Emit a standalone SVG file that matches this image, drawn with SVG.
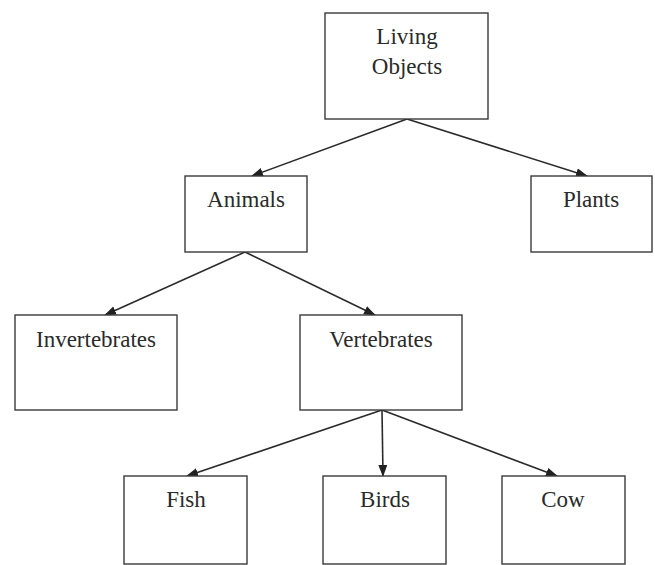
<svg xmlns="http://www.w3.org/2000/svg" width="655" height="565" viewBox="0 0 655 565">
<defs>
<marker id="arr" markerWidth="12" markerHeight="10" refX="11" refY="4.5" orient="auto" markerUnits="userSpaceOnUse">
<path d="M0,0 L12,4.5 L0,9 Z" fill="#222"/>
</marker>
<style>
.box{fill:#fff;stroke:#3a3a3a;stroke-width:1.4}
.lbl{font-family:"Liberation Serif","Times New Roman",serif;font-size:23px;fill:#2a2a2a;text-anchor:middle}
.con{stroke:#2a2a2a;stroke-width:1.6;fill:none;marker-end:url(#arr)}
</style>
</defs>
<rect width="655" height="565" fill="#fff"/>
<g id="connectors">
<line class="con" x1="407" y1="119" x2="252" y2="176"/>
<line class="con" x1="407" y1="119" x2="587" y2="176"/>
<line class="con" x1="245" y1="252" x2="105" y2="315"/>
<line class="con" x1="245" y1="252" x2="375" y2="315"/>
<line class="con" x1="382" y1="410" x2="187" y2="476"/>
<line class="con" x1="382" y1="410" x2="383" y2="476"/>
<line class="con" x1="382" y1="410" x2="557" y2="476"/>
</g>
<g id="living">
<rect class="box" x="325" y="13" width="163" height="106"/>
<text class="lbl" x="407" y="44">Living</text>
<text class="lbl" x="407" y="74">Objects</text>
</g>
<g id="animals">
<rect class="box" x="185" y="176" width="122" height="76"/>
<text class="lbl" x="246" y="207">Animals</text>
</g>
<g id="plants">
<rect class="box" x="531" y="176" width="121" height="76"/>
<text class="lbl" x="591" y="207">Plants</text>
</g>
<g id="invertebrates">
<rect class="box" x="15" y="315" width="162" height="95"/>
<text class="lbl" x="96" y="347">Invertebrates</text>
</g>
<g id="vertebrates">
<rect class="box" x="300" y="315" width="162" height="95"/>
<text class="lbl" x="381" y="347">Vertebrates</text>
</g>
<g id="fish">
<rect class="box" x="124" y="476" width="123" height="88"/>
<text class="lbl" x="186" y="507">Fish</text>
</g>
<g id="birds">
<rect class="box" x="323" y="476" width="123" height="88"/>
<text class="lbl" x="385" y="507">Birds</text>
</g>
<g id="cow">
<rect class="box" x="502" y="476" width="123" height="88"/>
<text class="lbl" x="563" y="507">Cow</text>
</g>
</svg>
